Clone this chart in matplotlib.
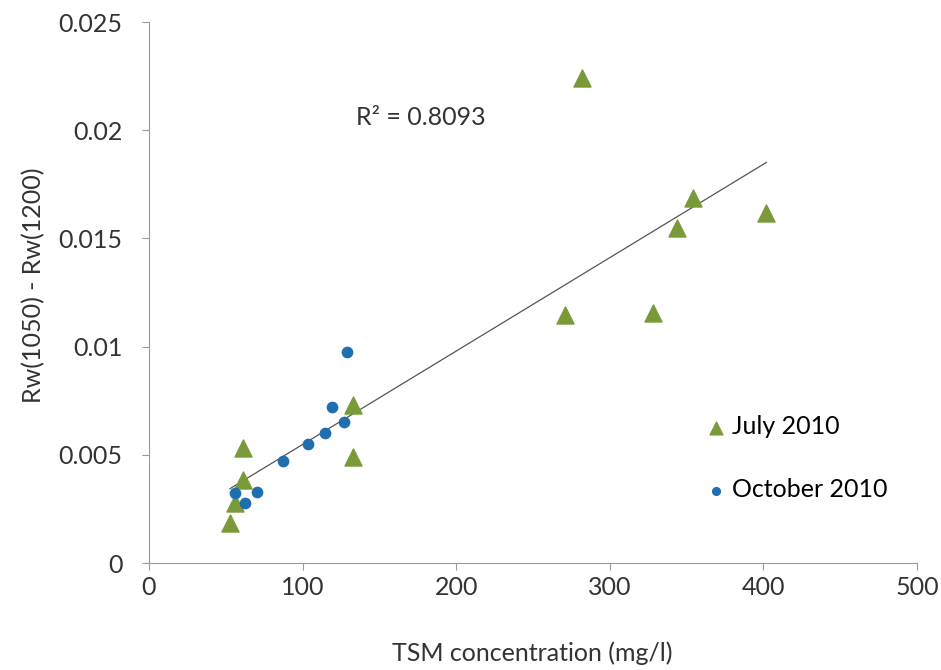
import matplotlib.pyplot as plt
import numpy as np

# July 2010 samples
july_tsm = [52.7, 55.7, 61, 61, 133, 133, 271, 328, 344, 354, 402, 282]
july_rw = [0.00185, 0.00277, 0.00384, 0.00531, 0.0073, 0.0049, 0.01146, 0.01155, 0.01548, 0.01687, 0.01617, 0.0224]

# October 2010 samples
oct_tsm = [56, 62.5, 70.3, 87.2, 103.5, 114.6, 119, 127, 129]
oct_rw = [0.00323, 0.00277, 0.00328, 0.00471, 0.0055, 0.0060, 0.0072, 0.0065, 0.00975]

r2_text = "R² = 0.8093"

plt.rcParams['font.family'] = ['Lato', 'DejaVu Sans']

fig = plt.figure(figsize=(9.41, 6.70), dpi=100)
ax = fig.add_axes([0.1583, 0.1597, 0.8162, 0.8073])

ax.scatter(july_tsm, july_rw, marker='^', s=150, color='#7A9A3A', label='July 2010', zorder=3)
ax.scatter(oct_tsm, oct_rw, marker='o', s=55, color='#1F6EB0', label='October 2010', zorder=3)

# linear trend over all samples
all_x = np.array(july_tsm + oct_tsm)
all_y = np.array(july_rw + oct_rw)
slope, icpt = np.polyfit(all_x, all_y, 1)
xs = np.array([all_x.min(), all_x.max()])
ax.plot(xs, slope * xs + icpt, color='#555555', lw=0.9, zorder=2)

ax.text(135, 0.0206, r2_text, fontsize=18, va='center', color='#333333')

ax.set_xlim(0, 500)
ax.set_ylim(0, 0.025)
ax.set_xticks([0, 100, 200, 300, 400, 500])
ax.set_yticks([0, 0.005, 0.01, 0.015, 0.02, 0.025])
ax.set_yticklabels(['0', '0.005', '0.01', '0.015', '0.02', '0.025'])

for side in ['top', 'right']:
    ax.spines[side].set_visible(False)
for side in ['left', 'bottom']:
    ax.spines[side].set_color('#999999')
ax.tick_params(axis='both', labelsize=18, color='#999999', length=5, direction='out', labelcolor='#333333')
ax.tick_params(axis='y', pad=14)
ax.tick_params(axis='x', pad=4)

ax.set_xlabel('TSM concentration (mg/l)', fontsize=18, color='#333333')
ax.set_ylabel('Rw(1050) - Rw(1200)', fontsize=18, color='#333333')
ax.xaxis.set_label_coords(0.499, -0.145)
ax.yaxis.set_label_coords(-0.135, 0.514)

ax.legend(loc='center left', bbox_to_anchor=(0.701, 0.194), frameon=False, fontsize=18,
          handletextpad=0.0, handlelength=1.3, labelspacing=1.6, markerscale=0.75, borderpad=0)

fig.savefig('out.png', dpi=100)
